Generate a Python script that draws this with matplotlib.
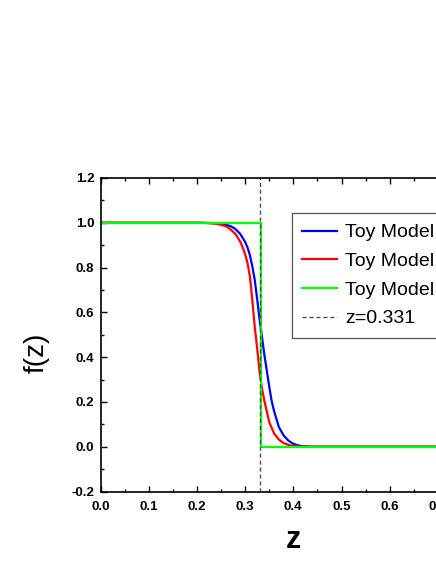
import matplotlib
matplotlib.use("Agg")
import matplotlib.pyplot as plt
from matplotlib.ticker import MultipleLocator

plt.rcParams["font.family"] = ["Liberation Sans", "DejaVu Sans"]

# values
z_blue = [0.0, 0.20, 0.23, 0.25, 0.27, 0.28, 0.29, 0.30, 0.305, 0.31, 0.315, 0.32, 0.325,
          0.33, 0.335, 0.34, 0.345, 0.35, 0.355, 0.36, 0.37, 0.38, 0.39, 0.40, 0.41, 0.42,
          0.44, 0.80]
f_blue = [1.0, 1.0, 0.999, 0.997, 0.985, 0.972, 0.95, 0.915, 0.89, 0.855, 0.805, 0.745, 0.66,
          0.57, 0.49, 0.41, 0.34, 0.27, 0.205, 0.16, 0.088, 0.05, 0.027, 0.013, 0.006, 0.002,
          0.0, 0.0]

z_red = [0.0, 0.20, 0.22, 0.24, 0.26, 0.27, 0.28, 0.29, 0.295, 0.30, 0.305, 0.31, 0.315,
         0.32, 0.325, 0.33, 0.335, 0.34, 0.35, 0.36, 0.37, 0.38, 0.39, 0.40, 0.42, 0.80]
f_red = [1.0, 1.0, 0.999, 0.996, 0.985, 0.97, 0.95, 0.915, 0.89, 0.86, 0.82, 0.76, 0.655,
         0.535, 0.44, 0.335, 0.26, 0.205, 0.11, 0.06, 0.032, 0.016, 0.008, 0.003, 0.0, 0.0]

z_green = [0.0, 0.333, 0.333, 0.80]
f_green = [1.0, 1.0, 0.0, 0.0]

z_cut = 0.331
labels = ["Toy Model 1", "Toy Model 2", "Toy Model 3", "z=0.331"]

W, H = 436, 564
fig = plt.figure(figsize=(W / 100, H / 100), dpi=100)
# axes run past the right edge of the picture, as in the reference
left, bottom, top, right = 100.5, 491.5, 178.0, 486.1
ax = fig.add_axes([left / W, 1 - bottom / H, (right - left) / W, (bottom - top) / H])

ax.plot(z_blue, f_blue, color="#0000ff", lw=1.6, label=labels[0])
ax.plot(z_red, f_red, color="#ff0000", lw=1.6, label=labels[1])
ax.plot(z_green, f_green, color="#00ff00", lw=1.6, label=labels[2])
ax.axvline(z_cut, color="#505050", lw=1.0, ls=(0, (3, 2)), label=labels[3])

ax.set_xlim(0.0, 0.8)
ax.set_ylim(-0.2, 1.2)
ax.xaxis.set_major_locator(MultipleLocator(0.1))
ax.xaxis.set_minor_locator(MultipleLocator(0.05))
ax.yaxis.set_major_locator(MultipleLocator(0.2))
ax.yaxis.set_minor_locator(MultipleLocator(0.1))
ax.xaxis.set_major_formatter(matplotlib.ticker.FormatStrFormatter("%.1f"))
ax.yaxis.set_major_formatter(matplotlib.ticker.FormatStrFormatter("%.1f"))

ax.tick_params(which="both", direction="in", top=True, right=True, width=1.0)
ax.tick_params(which="major", length=4.5, labelsize=9.5)
ax.tick_params(axis="x", which="major", pad=6.5)
ax.tick_params(axis="y", which="major", pad=4.5)
ax.tick_params(which="minor", length=2.3)
for lab in ax.get_xticklabels() + ax.get_yticklabels():
    lab.set_fontweight("bold")
for sp in ax.spines.values():
    sp.set_linewidth(1.2)

ax.set_xlabel("z", fontsize=22, fontweight="bold", va="baseline")
ax.xaxis.set_label_coords(0.5, -(548.3 - bottom) / (bottom - top))
ax.set_ylabel("f(z)", fontsize=20, va="center", ha="center")
ax.yaxis.set_label_coords((37 - left) / (right - left), (bottom - 353) / (bottom - top))

leg = ax.legend(loc="upper left", bbox_to_anchor=(291.5 / W, 1 - 213.0 / H),
                bbox_transform=fig.transFigure, borderaxespad=0, fontsize=14,
                fancybox=False, framealpha=1, edgecolor="#555555",
                handlelength=1.8, handletextpad=0.4, labelspacing=0.57, borderpad=0.55)
leg.get_frame().set_linewidth(0.9)

fig.savefig("out.png", dpi=100)
